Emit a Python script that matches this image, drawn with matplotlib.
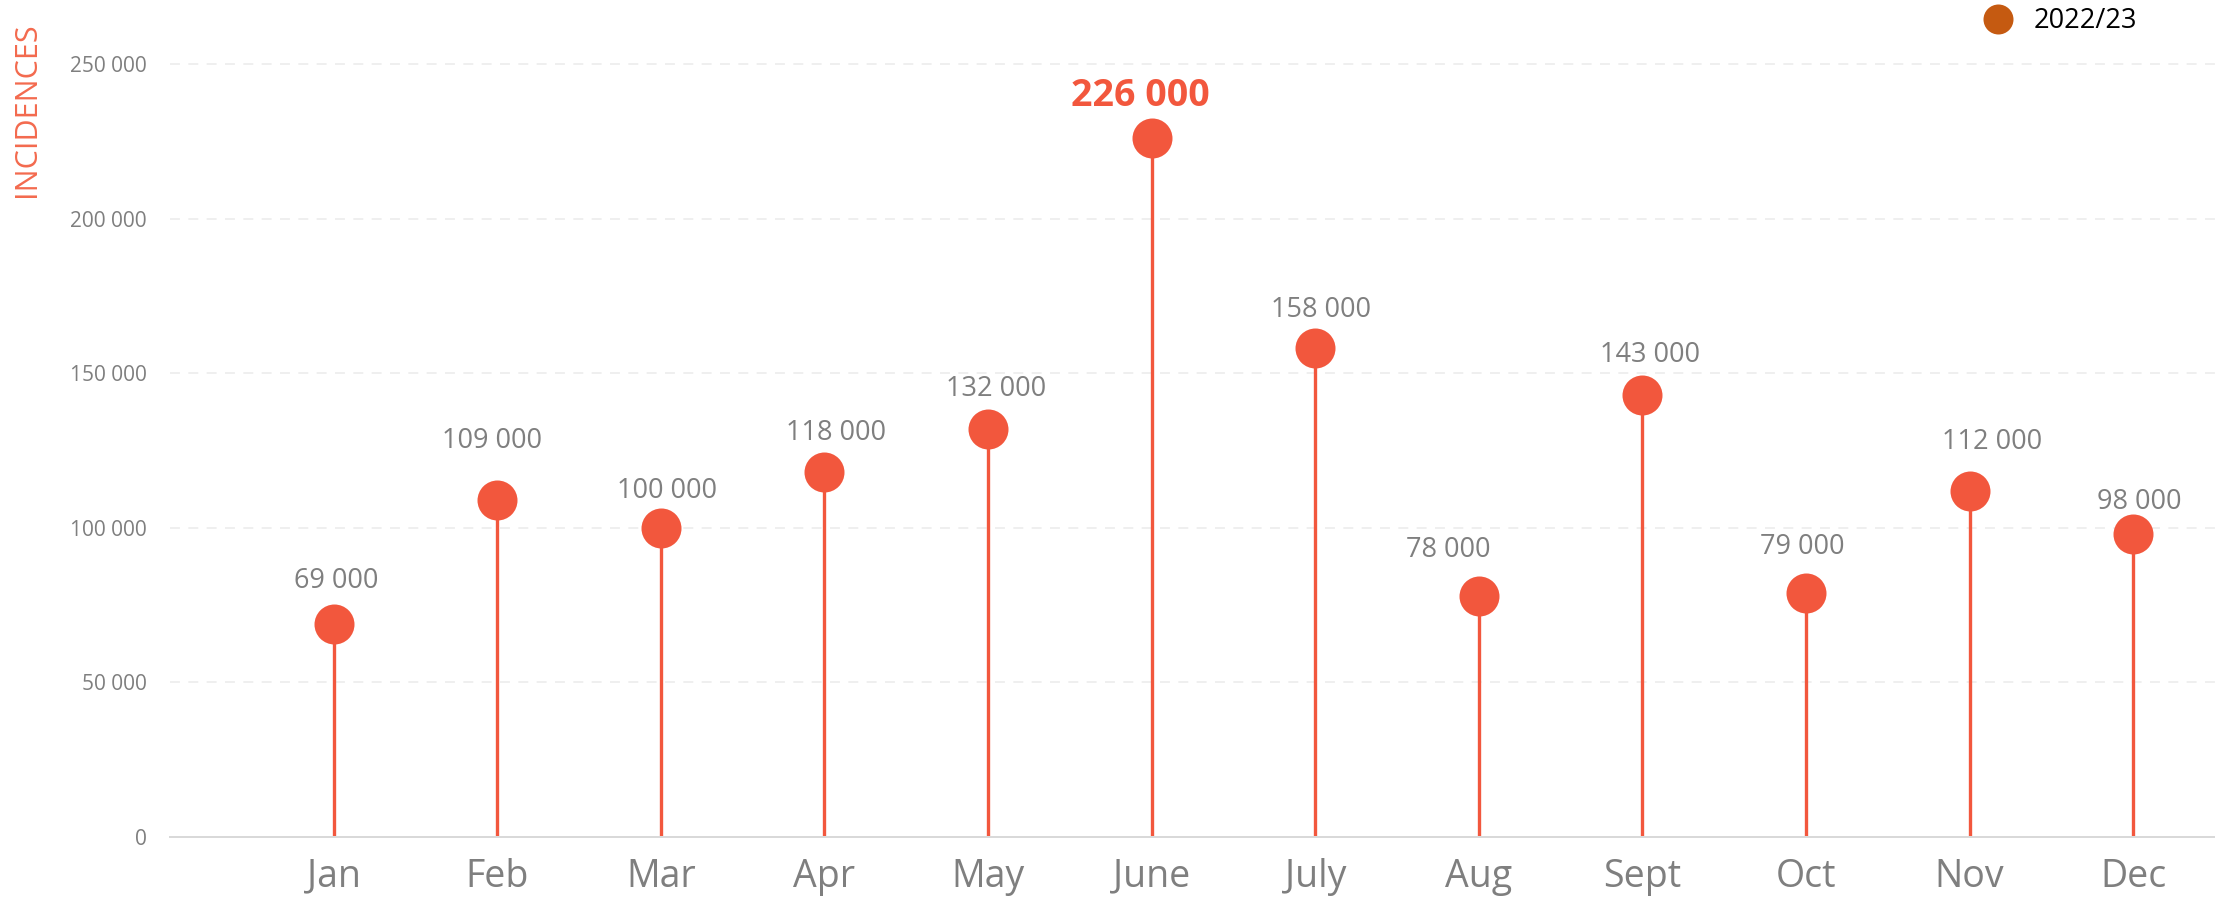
import matplotlib
matplotlib.use("Agg")
import matplotlib.pyplot as plt
from matplotlib.ticker import FuncFormatter

# ---- data ----
months = ["Jan", "Feb", "Mar", "Apr", "May", "June", "July", "Aug", "Sept", "Oct", "Nov", "Dec"]
incidences = [69000, 109000, 100000, 118000, 132000, 226000, 158000, 78000, 143000, 79000, 112000, 98000]
series_label = "2022/23"
y_ticks = [0, 50000, 100000, 150000, 200000, 250000]
y_title = "INCIDENCES"

# ---- label placement (style, in pixels relative to marker centre) ----
label_dx_px = [3, -5, 6, 12, 8.5, -11, 5.6, -31, 8, -4, 22, 6]
label_gap_px = [45, 62, 40, 42, 43, 46, 41, 49, 42.5, 48, 51, 35]

# ---- style ----
plt.rcParams['font.family'] = ['Open Sans', 'DejaVu Sans']
RED = '#F2573D'
LABEL_RED = '#F36A4E'
GRAY = '#7F7F7F'
LEGEND_COLOR = '#C55A11'
PX = 0.72  # points per pixel at dpi 100

W, H = 2215, 897
fig = plt.figure(figsize=(W / 100, H / 100), dpi=100)
ax = fig.add_axes([170 / W, 60 / H, (W - 170) / W, 837 / H])

x = list(range(len(months)))
peak = max(incidences)

# grid lines
for t in y_ticks[1:]:
    ax.axhline(t, color='#EBEBEB', lw=1.1, linestyle=(0, (6.5, 5.5)), zorder=0)

# stems and markers
ax.vlines(x, 0, incidences, color=RED, lw=2.4, zorder=2)
ax.plot(x, incidences, 'o', color=RED, markersize=28.8, markeredgewidth=0, zorder=3)

# value labels
for xi, v, dx, gap in zip(x, incidences, label_dx_px, label_gap_px):
    txt = f"{v:,}".replace(",", " ")
    if v == peak:
        fs, half_cap = 27, 13.4
        kw = dict(fontweight='bold', color=RED)
    else:
        fs, half_cap = 19.5, 9.7
        kw = dict(color=GRAY)
    ax.annotate(txt, (xi, v), xytext=(dx * PX, (gap - half_cap) * PX),
                textcoords='offset points', ha='center', va='baseline',
                fontsize=fs, **kw)

ax.set_xlim(-1.0, 11.5)
ax.set_ylim(0, 270700)
ax.set_xticks(x)
ax.set_xticklabels(months, fontsize=27, color=GRAY)
ax.set_yticks(y_ticks)
ax.yaxis.set_major_formatter(FuncFormatter(lambda v, p: f"{int(v):,}".replace(",", " ")))
ax.tick_params(axis='x', length=0, pad=15)
ax.tick_params(axis='y', length=0, pad=16.5, labelsize=15, labelcolor=GRAY)

for s in ['top', 'right', 'left']:
    ax.spines[s].set_visible(False)
ax.spines['bottom'].set_color('#D9D9D9')
ax.spines['bottom'].set_linewidth(1.44)

# y title
fig.text(27 / W, 1 - 110 / H, y_title, rotation=90, ha='center', va='center',
         fontsize=22, color=LABEL_RED)

# legend
ax.plot([], [], 'o', color=LEGEND_COLOR, markersize=21.6, markeredgewidth=0, label=series_label)
leg = fig.legend(loc='center left', bbox_to_anchor=(1984.5 / W, 1 - 21 / H),
                 bbox_transform=fig.transFigure, frameon=False, fontsize=19.5,
                 handlelength=1.0, handletextpad=0.8, borderpad=0, borderaxespad=0,
                 numpoints=1)

fig.savefig("out.png", dpi=100)
